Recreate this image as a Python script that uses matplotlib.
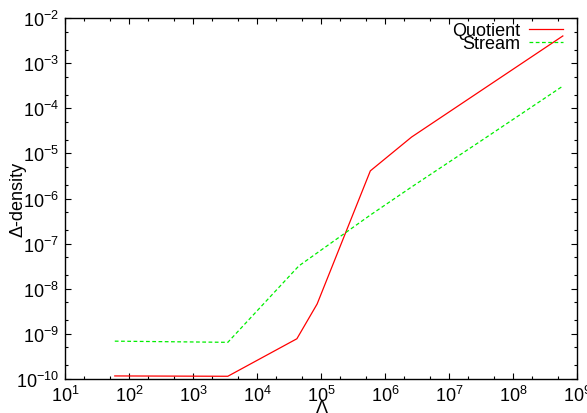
import numpy as np
import matplotlib
matplotlib.use('Agg')
import matplotlib.pyplot as plt
from matplotlib.ticker import LogLocator, NullFormatter

plt.rcParams['font.family'] = ['Liberation Sans', 'DejaVu Sans']
plt.rcParams['mathtext.default'] = 'regular'

# values
lam_quot = [60, 3.5e3, 4.2e4, 8.7e4, 5.9e5, 2.6e6, 6e8]
dens_quot = [1.17e-10, 1.15e-10, 7.8e-10, 4.6e-9, 4.1e-6, 2.3e-5, 4.0e-3]

lam_stream = [60, 3.5e3, 4.5e4, 5.9e5, 2.6e6, 3e7, 6e8]
dens_stream = [6.9e-10, 6.5e-10, 3.2e-8, 4.3e-7, 1.8e-6, 1.8e-5, 3.1e-4]

fig = plt.figure(figsize=(5.87, 4.14), dpi=100)
ax = fig.add_axes([0.1107, 0.0821, 0.8723, 0.872])

ax.plot(lam_quot, dens_quot, color='#ff0000', lw=0.9, label='Quotient')
ax.plot(lam_stream, dens_stream, color='#00ee00', lw=0.9, ls=(0, (3, 2)), label='Stream')

ax.set_xscale('log')
ax.set_yscale('log')
ax.set_xlim(1e1, 1e9)
ax.set_ylim(1e-10, 1e-2)

ax.xaxis.set_major_locator(LogLocator(base=10, numticks=20))
ax.yaxis.set_major_locator(LogLocator(base=10, numticks=20))
ax.xaxis.set_minor_locator(LogLocator(base=10, subs=[2, 5], numticks=20))
ax.yaxis.set_minor_locator(LogLocator(base=10, subs=[2, 5], numticks=20))
ax.xaxis.set_minor_formatter(NullFormatter())
ax.yaxis.set_minor_formatter(NullFormatter())

ax.tick_params(which='both', direction='in', top=True, right=True, labelsize=13, width=0.8)
ax.tick_params(which='major', length=4.5, pad=4)
ax.tick_params(which='minor', length=2.5)
for s in ax.spines.values():
    s.set_linewidth(1.0)

ax.set_ylabel('Δ-density', fontsize=13)
ax.yaxis.set_label_coords(-0.075, 0.5)
fig.text(0.548, -0.008, 'Λ', fontsize=13, ha='center', va='bottom')

leg = ax.legend(loc='upper right', bbox_to_anchor=(0.98, 0.998), frameon=False,
                markerfirst=False, fontsize=13, handlelength=1.9, handletextpad=0.5,
                labelspacing=-0.25, borderaxespad=0, borderpad=0.2)

fig.savefig('out.png', dpi=100)
